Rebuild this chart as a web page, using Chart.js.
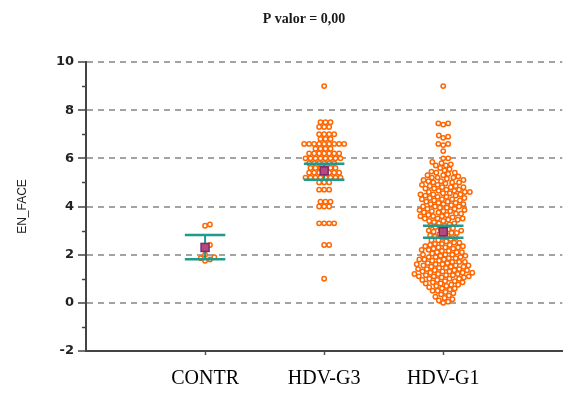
<!DOCTYPE html>
<html>
<head>
<meta charset="utf-8">
<script src="https://cdn.jsdelivr.net/npm/chart.js@4.4.1/dist/chart.umd.min.js"></script>
<style>
  html, body { margin: 0; padding: 0; background: #ffffff; }
  #wrap { width: 566px; height: 396px; }
</style>
</head>
<body>
<div id="wrap"><canvas id="c" width="566" height="396"></canvas></div>
<script>
// Groups shown along the x axis
const categories = ['CONTR', 'HDV-G3', 'HDV-G1'];

// Individual EN_FACE measurements per group
const contrValues = [3.25, 3.2, 2.4, 2.35, 2.0, 1.9, 1.85, 1.8, 1.75];

const g3Values = [
  9.0,
  7.5, 7.5, 7.5,
  7.3, 7.3, 7.3,
  7.0, 7.0, 7.0, 7.0,
  6.8, 6.8, 6.8,
  6.6, 6.6, 6.6, 6.6, 6.6, 6.6, 6.6, 6.6, 6.6,
  6.4, 6.4, 6.4, 6.4,
  6.2, 6.2, 6.2, 6.2, 6.2, 6.2, 6.2,
  6.0, 6.0, 6.0, 6.0, 6.0, 6.0, 6.0, 6.0,
  5.8, 5.8, 5.8, 5.8, 5.8, 5.8,
  5.6, 5.6, 5.6, 5.6, 5.6, 5.6,
  5.4, 5.4, 5.4, 5.4, 5.4, 5.4, 5.4,
  5.2, 5.2, 5.2, 5.2, 5.2, 5.2, 5.2, 5.2,
  5.0, 5.0, 5.0,
  4.7, 4.7, 4.7,
  4.2, 4.2, 4.2, 4.0, 4.0, 4.0,
  3.3, 3.3, 3.3, 3.3,
  2.4, 2.4,
  1.0
];

const g1Values = [
  9.0, 7.45, 7.4, 7.45, 6.95, 6.85, 6.9, 6.6, 6.55, 6.6, 6.3, 6.0, 6.0,
  5.85, 5.8, 5.75, 5.7, 5.7, 5.6, 5.55, 5.5,
  5.45, 5.4, 5.4, 5.35, 5.3, 5.3, 5.25, 5.2, 5.2, 5.2, 5.15, 5.1, 5.1, 5.05, 5.0, 5.0, 5.0, 5.05,
  4.95, 4.9, 4.9, 4.85, 4.8, 4.8, 4.8, 4.75, 4.7, 4.7, 4.65, 4.6, 4.6, 4.6, 4.55, 4.55, 4.5, 4.5, 4.5, 4.85, 4.75, 4.65,
  4.45, 4.4, 4.4, 4.35, 4.3, 4.3, 4.3, 4.25, 4.2, 4.2, 4.15, 4.1, 4.1, 4.1, 4.05, 4.0, 4.0, 4.0, 4.45, 4.35, 4.25, 4.15,
  3.95, 3.9, 3.9, 3.85, 3.8, 3.8, 3.8, 3.75, 3.7, 3.7, 3.65, 3.6, 3.6, 3.6, 3.55, 3.5, 3.5, 3.5, 3.95, 3.85, 3.75, 3.65,
  3.45, 3.4, 3.4, 3.35, 3.3, 3.3, 3.25, 3.2, 3.2, 3.15, 3.1, 3.1, 3.05, 3.0, 3.0, 3.45,
  2.95, 2.9, 2.9, 2.85, 2.8, 2.8, 2.75, 2.7, 2.7, 2.65, 2.6, 2.6, 2.55, 2.5, 2.5, 2.95,
  2.45, 2.4, 2.4, 2.35, 2.3, 2.3, 2.3, 2.25, 2.2, 2.2, 2.15, 2.1, 2.1, 2.1, 2.05, 2.0, 2.0, 2.0, 2.45, 2.35, 2.25, 2.15,
  1.95, 1.9, 1.9, 1.9, 1.85, 1.8, 1.8, 1.8, 1.75, 1.75, 1.7, 1.7, 1.7, 1.65, 1.6, 1.6, 1.6, 1.55, 1.55, 1.5, 1.5, 1.5, 1.95, 1.85, 1.65, 1.55,
  1.45, 1.45, 1.4, 1.4, 1.4, 1.35, 1.35, 1.3, 1.3, 1.3, 1.25, 1.25, 1.2, 1.2, 1.2, 1.15, 1.15, 1.1, 1.1, 1.1, 1.05, 1.05, 1.0, 1.0, 1.0, 1.25, 1.35, 1.15,
  0.95, 0.9, 0.9, 0.85, 0.8, 0.8, 0.75, 0.7, 0.7, 0.65, 0.6, 0.6, 0.55, 0.5, 0.5, 0.85, 0.75, 0.95,
  0.45, 0.4, 0.35, 0.3, 0.25, 0.2, 0.15, 0.1, 0.05, 0.0
];

// Group mean and interval limits
const groupMeans = [2.3, 5.48, 2.95];
const groupLow   = [1.81, 5.11, 2.70];
const groupHigh  = [2.82, 5.77, 3.20];

const yTickValues = [-2, 0, 2, 4, 6, 8, 10];
const yMinorTickValues = [-1, 1, 3, 5, 7, 9];
const chartTitle = 'P valor = 0,00';
const yAxisTitle = 'EN_FACE';

const groupValues = [contrValues, g3Values, g1Values];

const POINT_COLOR = '#ff6600';
const BAR_COLOR = '#1f9a8e';
const MEAN_FILL = '#b5487e';
const MEAN_EDGE = '#7a2a6e';

// Beeswarm layout: horizontal pixel offsets so circles do not overlap
function swarmOffsets(values, yScale, diameter) {
  const order = values.map((v, i) => i).sort((a, b) => values[a] - values[b]);
  const placed = [];
  const offsets = new Array(values.length).fill(0);
  for (const i of order) {
    const py = yScale.getPixelForValue(values[i]);
    const blocks = [];
    for (const p of placed) {
      const dy = Math.abs(p.y - py);
      if (dy < diameter) {
        const dx = Math.sqrt(diameter * diameter - dy * dy);
        blocks.push([p.x - dx, p.x + dx]);
      }
    }
    const cands = [0];
    blocks.forEach(b => { cands.push(b[0], b[1]); });
    cands.sort((a, b) => Math.abs(a) - Math.abs(b) || b - a);
    let x = 0;
    for (const c of cands) {
      if (blocks.every(b => c <= b[0] + 1e-6 || c >= b[1] - 1e-6)) { x = c; break; }
    }
    placed.push({ x, y: py });
    offsets[i] = x;
  }
  return offsets;
}

const titlePlugin = {
  id: 'topTitle',
  afterDraw(chart) {
    const ctx = chart.ctx;
    ctx.save();
    ctx.font = 'bold 14px "Liberation Serif", serif';
    ctx.fillStyle = '#1a1a1a';
    ctx.textAlign = 'center';
    ctx.textBaseline = 'middle';
    ctx.fillText(chartTitle, 304, 19);
    ctx.restore();
  }
};

const minorTickPlugin = {
  id: 'minorTicks',
  afterDraw(chart) {
    const ctx = chart.ctx;
    const y = chart.scales.y;
    const left = chart.chartArea.left;
    ctx.save();
    ctx.strokeStyle = '#444';
    ctx.lineWidth = 1.5;
    yMinorTickValues.forEach(v => {
      const py = Math.round(y.getPixelForValue(v)) + 0.5;
      ctx.beginPath();
      ctx.moveTo(left - 4, py);
      ctx.lineTo(left, py);
      ctx.stroke();
    });
    ctx.restore();
  }
};

const errorBarPlugin = {
  id: 'errorBars',
  afterDatasetsDraw(chart) {
    const ctx = chart.ctx;
    const xs = chart.scales.x, ys = chart.scales.y;
    const half = 0.17;
    ctx.save();
    groupMeans.forEach((m, i) => {
      const cx = xs.getPixelForValue(i + 1);
      const x0 = xs.getPixelForValue(i + 1 - half);
      const x1 = xs.getPixelForValue(i + 1 + half);
      const yh = ys.getPixelForValue(groupHigh[i]);
      const yl = ys.getPixelForValue(groupLow[i]);
      const ym = ys.getPixelForValue(m);
      ctx.strokeStyle = BAR_COLOR;
      ctx.lineWidth = 2;
      ctx.beginPath(); ctx.moveTo(cx, yh); ctx.lineTo(cx, yl); ctx.stroke();
      ctx.lineWidth = 2.5;
      ctx.beginPath(); ctx.moveTo(x0, yh); ctx.lineTo(x1, yh); ctx.stroke();
      ctx.beginPath(); ctx.moveTo(x0, yl); ctx.lineTo(x1, yl); ctx.stroke();
      ctx.fillStyle = MEAN_FILL;
      ctx.strokeStyle = MEAN_EDGE;
      ctx.lineWidth = 1.5;
      ctx.fillRect(cx - 4, ym - 4, 8, 8);
      ctx.strokeRect(cx - 4, ym - 4, 8, 8);
    });
    ctx.restore();
  }
};

const datasets = groupValues.map((vals, gi) => ({
  label: categories[gi],
  data: vals.map(v => ({ x: gi + 1, y: v })),
  pointRadius: 2.2,
  pointHoverRadius: 2.2,
  borderWidth: 1.5,
  borderColor: POINT_COLOR,
  backgroundColor: '#ffffff',
  showLine: false
}));

const chart = new Chart(document.getElementById('c'), {
  type: 'scatter',
  data: { datasets },
  options: {
    responsive: false,
    devicePixelRatio: 1,
    animation: false,
    layout: { padding: { top: 62, right: 1, left: 0, bottom: 0 } },
    plugins: {
      legend: { display: false },
      tooltip: { enabled: false },
      title: { display: false }
    },
    scales: {
      x: {
        type: 'linear',
        min: 0,
        max: 4,
        afterBuildTicks: s => { s.ticks = [1, 2, 3].map(v => ({ value: v })); },
        afterFit: s => { s.height = 45; },
        ticks: {
          callback: v => categories[v - 1] || '',
          font: { family: '"Liberation Serif", serif', size: 20 },
          color: '#000',
          padding: 12,
          maxRotation: 0,
          autoSkip: false
        },
        grid: {
          drawOnChartArea: false,
          tickLength: 4,
          tickColor: '#555',
          tickWidth: 1.5
        },
        border: { color: '#444', width: 2 }
      },
      y: {
        type: 'linear',
        min: -2,
        max: 10,
        afterBuildTicks: s => { s.ticks = yTickValues.map(v => ({ value: v })); },
        afterFit: s => { s.width = 86; },
        ticks: {
          callback: v => String(v),
          font: { family: '"DejaVu Sans", sans-serif', size: 13, weight: 'bold' },
          color: '#222',
          padding: 4
        },
        grid: {
          color: c => (c.tick && c.tick.value >= 0) ? '#a3a3a3' : 'rgba(0,0,0,0)',
          lineWidth: 2,
          tickLength: 8,
          tickColor: '#444',
          tickWidth: 1.5,
          tickBorderDash: []
        },
        border: { color: '#444', width: 2, dash: [6, 5] },
        title: {
          display: true,
          text: yAxisTitle,
          font: { family: '"Liberation Sans", sans-serif', size: 12 },
          color: '#222',
          padding: { top: 15, bottom: 0 }
        }
      }
    }
  },
  plugins: [titlePlugin, minorTickPlugin, errorBarPlugin]
});

// Second pass: spread each group's points into a swarm around its category
(function layoutSwarm() {
  const xs = chart.scales.x, ys = chart.scales.y;
  const pxPerUnit = xs.getPixelForValue(1) - xs.getPixelForValue(0);
  groupValues.forEach((vals, gi) => {
    const offs = swarmOffsets(vals, ys, 5.0);
    chart.data.datasets[gi].data = vals.map((v, i) => ({ x: gi + 1 + offs[i] / pxPerUnit, y: v }));
  });
  chart.update('none');
})();
</script>
</body>
</html>
